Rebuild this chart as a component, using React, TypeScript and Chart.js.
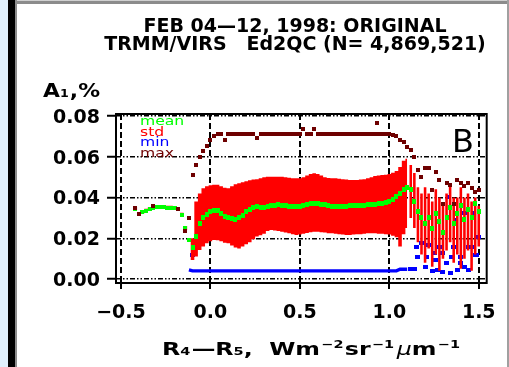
import React, { useEffect, useRef } from "react";
import { Chart, registerables } from "chart.js";
Chart.register(...registerables);

const titleLine1 = "FEB 04\u201412, 1998: ORIGINAL";
const titleLine2 = "TRMM/VIRS   Ed2QC (N= 4,869,521)";
const panelLabel = "B";
const seriesNames = ["mean", "std", "min", "max"];
const seriesColors = ["#00ff00", "#ff0000", "#0000ff", "#6e0000"];

const xTicks = [-0.5, 0, 0.5, 1.0, 1.5];
const xTickLabels = ["\u22120.5", "0.0", "0.5", "1.0", "1.5"];
const yTicks = [0, 0.02, 0.04, 0.06, 0.08];
const yTickLabels = ["0.00", "0.02", "0.04", "0.06", "0.08"];

// bin centres (R4 - R5)
const binX = [
  -0.42, -0.40, -0.38, -0.36, -0.34, -0.32, -0.30, -0.28, -0.26, -0.24, -0.22,
  -0.20, -0.18, -0.16, -0.14, -0.12, -0.10, -0.08, -0.06, -0.04, -0.02,
  0.00, 0.02, 0.04, 0.06, 0.08, 0.10, 0.12, 0.14, 0.16, 0.18,
  0.20, 0.22, 0.24, 0.26, 0.28, 0.30, 0.32, 0.34, 0.36, 0.38,
  0.40, 0.42, 0.44, 0.46, 0.48, 0.50, 0.52, 0.54, 0.56, 0.58,
  0.60, 0.62, 0.64, 0.66, 0.68, 0.70, 0.72, 0.74, 0.76, 0.78,
  0.80, 0.82, 0.84, 0.86, 0.88, 0.90, 0.92, 0.94, 0.96, 0.98,
  1.00, 1.02, 1.04, 1.06, 1.08, 1.10, 1.12, 1.14, 1.16, 1.18,
  1.20, 1.22, 1.24, 1.26, 1.28, 1.30, 1.32, 1.34, 1.36, 1.38,
  1.40, 1.42, 1.44, 1.46, 1.48, 1.50,
];

const meanA = [
  0.0345, 0.0318, 0.0328, 0.0335, 0.0342, 0.0350, 0.0352, 0.0352, 0.0352, 0.0350,
  0.0350, 0.0348, 0.0343, 0.0315, 0.0250, 0.0190,
  0.0155, 0.0208, 0.0273, 0.0300, 0.0318,
  0.0330, 0.0338, 0.0338, 0.0322, 0.0308, 0.0300, 0.0295, 0.0290, 0.0300, 0.0314,
  0.0330, 0.0340, 0.0350, 0.0355, 0.0352, 0.0350, 0.0355, 0.0360, 0.0362, 0.0365,
  0.0363, 0.0360, 0.0358, 0.0356, 0.0355, 0.0356, 0.0360, 0.0365, 0.0370, 0.0372,
  0.0371, 0.0368, 0.0364, 0.0360, 0.0358, 0.0358, 0.0356, 0.0355, 0.0357, 0.0360,
  0.0362, 0.0363, 0.0362, 0.0362, 0.0364, 0.0366, 0.0368, 0.0370, 0.0371, 0.0375,
  0.0380, 0.0390, 0.0405, 0.0420, 0.0437, 0.0450,
  0.0440, 0.0380, 0.0330, 0.0300, 0.0270, 0.0300, 0.0250, 0.0320, 0.0280, 0.0230,
  0.0300, 0.0350, 0.0270, 0.0320, 0.0360, 0.0290, 0.0340, 0.0300, 0.0370, 0.0330,
];

const stdLow = [
  0.0337, 0.0310, 0.0320, 0.0327, 0.0334, 0.0342, 0.0344, 0.0344, 0.0344, 0.0342,
  0.0342, 0.0340, 0.0335, 0.0307, 0.0242, 0.0182,
  0.0093, 0.0110, 0.0142, 0.0160, 0.0175,
  0.0185, 0.0191, 0.0190, 0.0185, 0.0178, 0.0175, 0.0165, 0.0155, 0.0150, 0.0160,
  0.0170, 0.0180, 0.0195, 0.0208, 0.0215, 0.0222, 0.0235, 0.0240, 0.0238, 0.0235,
  0.0232, 0.0228, 0.0224, 0.0220, 0.0216, 0.0218, 0.0222, 0.0226, 0.0230, 0.0232,
  0.0232, 0.0230, 0.0228, 0.0225, 0.0224, 0.0222, 0.0220, 0.0218, 0.0216, 0.0216,
  0.0218, 0.0220, 0.0220, 0.0222, 0.0224, 0.0224, 0.0224, 0.0222, 0.0222, 0.0220,
  0.0218, 0.0212, 0.0205, 0.0160, 0.0220, 0.0250,
  0.0300, 0.0250, 0.0180, 0.0120, 0.0080, 0.0150, 0.0060, 0.0120, 0.0040, 0.0100,
  0.0140, 0.0180, 0.0080, 0.0120, 0.0050, 0.0100, 0.0140, 0.0040, 0.0120, 0.0160,
];

const stdHigh = [
  0.0355, 0.0328, 0.0338, 0.0345, 0.0352, 0.0360, 0.0362, 0.0362, 0.0362, 0.0360,
  0.0360, 0.0358, 0.0353, 0.0325, 0.0260, 0.0200,
  0.0200, 0.0380, 0.0420, 0.0445, 0.0455,
  0.0460, 0.0462, 0.0462, 0.0455, 0.0448, 0.0445, 0.0455, 0.0465, 0.0470, 0.0475,
  0.0480, 0.0485, 0.0488, 0.0490, 0.0495, 0.0500, 0.0502, 0.0502, 0.0502, 0.0502,
  0.0502, 0.0500, 0.0497, 0.0495, 0.0494, 0.0495, 0.0500, 0.0508, 0.0515, 0.0519,
  0.0515, 0.0508, 0.0500, 0.0496, 0.0494, 0.0494, 0.0492, 0.0490, 0.0488, 0.0486,
  0.0486, 0.0486, 0.0488, 0.0490, 0.0495, 0.0500, 0.0505, 0.0508, 0.0510, 0.0512,
  0.0515, 0.0522, 0.0530, 0.0550, 0.0580, 0.0590,
  0.0560, 0.0520, 0.0450, 0.0420, 0.0450, 0.0420, 0.0380, 0.0440, 0.0400, 0.0360,
  0.0420, 0.0460, 0.0400, 0.0400, 0.0450, 0.0400, 0.0420, 0.0380, 0.0400, 0.0360,
];

const minA = [
  null, null, null, null, null, null, null, null, null, null,
  null, null, null, null, null, 0.0045,
  0.0040, 0.0040, 0.0040, 0.0040, 0.0040,
  0.0040, 0.0040, 0.0040, 0.0040, 0.0040, 0.0040, 0.0040, 0.0040, 0.0040, 0.0040,
  0.0040, 0.0040, 0.0040, 0.0040, 0.0040, 0.0040, 0.0040, 0.0040, 0.0040, 0.0040,
  0.0040, 0.0040, 0.0040, 0.0040, 0.0040, 0.0040, 0.0040, 0.0040, 0.0040, 0.0040,
  0.0040, 0.0040, 0.0040, 0.0040, 0.0040, 0.0040, 0.0040, 0.0040, 0.0040, 0.0040,
  0.0040, 0.0040, 0.0040, 0.0040, 0.0040, 0.0040, 0.0040, 0.0040, 0.0040, 0.0040,
  0.0040, 0.0040, 0.0040, 0.0048, 0.0048, 0.0048,
  0.0048, 0.0050, 0.0110, 0.0175, 0.0061, 0.0167, 0.0040, 0.0093, 0.0159, 0.0126,
  0.0077, 0.0028, 0.0159, 0.0044, 0.0110, 0.0060, 0.0044, 0.0159, 0.0118, 0.0208,
];

const maxA = [
  0.0350, 0.0318, null, null, null, 0.0356, null, null, null, null,
  null, null, 0.0346, null, 0.0235, 0.0298,
  0.0510, 0.0560, 0.0600, 0.0630, 0.0655,
  0.0680, 0.0700, 0.0710, 0.0710, 0.0680, 0.0710, 0.0710, 0.0710, 0.0710, 0.0710,
  0.0710, 0.0710, 0.0710, 0.0690, 0.0710, 0.0710, 0.0710, 0.0710, 0.0710, 0.0710,
  0.0710, 0.0710, 0.0710, 0.0710, 0.0710, 0.0710, 0.0735, 0.0710, 0.0710, 0.0735,
  0.0710, 0.0710, 0.0710, 0.0710, 0.0710, 0.0710, 0.0710, 0.0710, 0.0710, 0.0710,
  0.0710, 0.0710, 0.0710, 0.0710, 0.0710, 0.0710, 0.0710, 0.0710, 0.0710, 0.0710,
  0.0710, 0.0705, 0.0700, 0.0682, 0.0670, 0.0650,
  0.0633, 0.0600, 0.0535, 0.0502, 0.0545, 0.0543, 0.0437, 0.0527, 0.0486, 0.0370,
  0.0470, 0.0462, 0.0370, 0.0486, 0.0470, 0.0454, 0.0470, 0.0445, 0.0429, 0.0437,
];

// additional scattered bins (several values share the same R4-R5)
const minExtraX = [-0.10, 1.15, 1.21, 1.25, 1.27, 1.30, 1.33, 1.35, 1.37, 1.40, 1.42, 1.44, 1.47, 1.49];
const minExtraY = [0.0118, 0.0159, 0.0110, 0.0126, 0.0044, 0.0036, 0.0404, 0.0110, 0.0291, 0.0077, 0.0324, 0.0159, 0.0324, 0.0118];
const maxExtraX = [0.93];
const maxExtraY = [0.0767];

const TAIL_START = 1.11;

function pts(xs: number[], ys: (number | null)[]) {
  const out: { x: number; y: number }[] = [];
  xs.forEach((x, i) => {
    const y = ys[i];
    if (y !== null && y !== undefined) out.push({ x, y });
  });
  return out;
}

function marker(color: string, w: number, h: number) {
  const c = document.createElement("canvas");
  c.width = w;
  c.height = h;
  const g = c.getContext("2d")!;
  g.fillStyle = color;
  g.fillRect(0, 0, w, h);
  return c;
}

const FONT = '"DejaVu Sans"';

function drawPieces(ctx: any, pieces: any[], left: number, width: number, baseline: number) {
  let total = 0;
  const widths = pieces.map((p) => {
    ctx.font = p.f;
    const w = ctx.measureText(p.t).width + (p.gap || 0);
    total += w;
    return w;
  });
  ctx.save();
  ctx.translate(left, baseline);
  ctx.scale(width / total, 1);
  let x = 0;
  pieces.forEach((p, i) => {
    ctx.font = p.f;
    ctx.fillText(p.t, x, p.dy);
    x += widths[i];
  });
  ctx.restore();
}

const decor = {
  id: "decor",
  afterDraw(chart: any) {
    const { ctx, chartArea: a } = chart;
    ctx.save();
    ctx.setLineDash([]);
    ctx.strokeStyle = "#000";
    ctx.lineWidth = 2;
    ctx.strokeRect(a.left, a.top, a.right - a.left, a.bottom - a.top);

    ctx.fillStyle = "#000";
    ctx.textBaseline = "alphabetic";
    ctx.textAlign = "center";
    ctx.font = `bold 19px ${FONT}`;
    ctx.fillText(titleLine1, 295, 32);
    ctx.fillText(titleLine2, 295, 50);

    ctx.textAlign = "left";
    const big = `bold 19px ${FONT}`;
    const small = `bold 11px ${FONT}`;
    drawPieces(
      ctx,
      [
        { t: "A", f: big, dy: 0 },
        { t: "1", f: small, dy: 0, gap: 1 },
        { t: ",%", f: big, dy: 0 },
      ],
      43,
      57,
      97
    );

    ctx.font = `13px ${FONT}`;
    const baselines = [125, 135.5, 146, 156.5];
    seriesNames.forEach((name, i) => {
      ctx.save();
      ctx.translate(140, baselines[i]);
      ctx.scale(1.2, 1);
      ctx.fillStyle = seriesColors[i];
      ctx.fillText(name, 0, 0);
      ctx.restore();
    });

    ctx.fillStyle = "#000";
    ctx.font = `32px ${FONT}`;
    ctx.fillText(panelLabel, 452, 152);

    const t18 = `bold 18px ${FONT}`;
    const s11 = `bold 11px ${FONT}`;
    drawPieces(
      ctx,
      [
        { t: "R", f: t18, dy: 0 },
        { t: "4", f: s11, dy: 0, gap: 1 },
        { t: "\u2014", f: t18, dy: 0 },
        { t: "R", f: t18, dy: 0 },
        { t: "5", f: s11, dy: 0 },
        { t: ",  W", f: t18, dy: 0 },
        { t: "m", f: t18, dy: 0, gap: 1 },
        { t: "\u22122", f: s11, dy: -7, gap: 1 },
        { t: "sr", f: t18, dy: 0, gap: 1 },
        { t: "\u22121", f: s11, dy: -7, gap: 2 },
        { t: "\u03bc", f: `italic 18px ${FONT}`, dy: 0 },
        { t: "m", f: t18, dy: 0, gap: 1 },
        { t: "\u22121", f: s11, dy: -7 },
      ],
      162,
      298,
      355
    );
    ctx.restore();
  },
};

export default function App() {
  const ref = useRef<HTMLCanvasElement>(null);
  useEffect(() => {
    const canvas = ref.current!;
    const band = binX.map((x, i) => ({ x, y: [stdLow[i], stdHigh[i]] }));
    const lowPts = pts(binX, stdLow).filter((p) => p.x <= TAIL_START);
    const highPts = pts(binX, stdHigh).filter((p) => p.x <= TAIL_START);
    const minPts = [...pts(binX, minA), ...pts(minExtraX, minExtraY)];
    const maxMark = marker(seriesColors[3], 4, 4);
    const meanMark = marker(seriesColors[0], 4, 5);
    const meanMarkSmall = marker(seriesColors[0], 4, 4);
    const minMark = marker(seriesColors[2], 5, 4);
    const chart = new Chart(canvas, {
      type: "scatter",
      data: {
        datasets: [
          {
            label: "max",
            data: [...pts(binX, maxA), ...pts(maxExtraX, maxExtraY)],
            pointStyle: maxMark,
            pointRadius: 2,
            backgroundColor: seriesColors[3],
            borderColor: seriesColors[3],
            order: 0,
          } as any,
          {
            label: "mean",
            data: pts(binX, meanA),
            pointStyle: (c: any) => (c.raw && c.raw.x < -0.11 ? meanMarkSmall : meanMark),
            pointRadius: 2,
            backgroundColor: seriesColors[0],
            borderColor: seriesColors[0],
            order: 1,
          } as any,
          {
            type: "bar",
            label: "std tail",
            data: band.filter((d) => d.x > TAIL_START),
            backgroundColor: seriesColors[1],
            borderWidth: 0,
            grouped: false,
            order: 2,
          } as any,
          {
            label: "std low",
            data: lowPts,
            showLine: true,
            stepped: "middle",
            borderWidth: 0,
            pointRadius: 0,
            borderColor: "rgba(0,0,0,0)",
            fill: false,
            order: 3,
          } as any,
          {
            label: "std",
            data: highPts,
            showLine: true,
            stepped: "middle",
            borderWidth: 0,
            pointRadius: 0,
            borderColor: "rgba(0,0,0,0)",
            backgroundColor: seriesColors[1],
            fill: "-1",
            order: 3,
          } as any,
          {
            label: "min",
            data: minPts.filter((p) => p.x <= TAIL_START && p.y < 0.006),
            showLine: true,
            borderWidth: 3.4,
            pointRadius: 0,
            borderColor: seriesColors[2],
            backgroundColor: seriesColors[2],
            order: 5,
          } as any,
          {
            label: "min tail",
            data: minPts.filter((p) => p.x > TAIL_START || p.y >= 0.006),
            pointStyle: minMark,
            pointRadius: 2,
            backgroundColor: seriesColors[2],
            borderColor: seriesColors[2],
            order: 6,
          } as any,
        ],
      },
      options: {
        responsive: false,
        animation: false,
        events: [],
        layout: { padding: { left: 0, right: 20, top: 114, bottom: 0 } },
        plugins: {
          legend: { display: false },
          tooltip: { enabled: false },
          title: { display: false },
          filler: { propagate: false },
        },
        scales: {
          x: {
            type: "linear",
            min: -0.52778,
            max: 1.54444,
            offset: false,
            afterFit: (s: any) => {
              s.height = 84;
            },
            afterBuildTicks: (s: any) => {
              s.ticks = xTicks.map((v) => ({ value: v }));
            },
            ticks: {
              autoSkip: false,
              maxRotation: 0,
              color: "#000",
              padding: 13,
              font: { family: "DejaVu Sans", size: 19, weight: "bold" },
              callback: (v: any) => xTickLabels[xTicks.indexOf(Number(v))] ?? "",
            },
            grid: {
              color: "#000",
              lineWidth: 2,
              offset: false,
              tickLength: 6,
              tickWidth: 2,
              tickColor: "#000",
              tickBorderDash: [],
            },
            border: { display: false, dash: [6, 3] },
          },
          y: {
            type: "linear",
            min: -0.001963,
            max: 0.080982,
            afterFit: (s: any) => {
              s.width = 116;
            },
            afterBuildTicks: (s: any) => {
              s.ticks = yTicks.map((v) => ({ value: v }));
            },
            ticks: {
              autoSkip: false,
              color: "#000",
              padding: 7,
              labelOffset: 2,
              font: { family: "DejaVu Sans", size: 19, weight: "bold" },
              callback: (v: any) => {
                const i = yTicks.findIndex((t) => Math.abs(t - Number(v)) < 1e-9);
                return i >= 0 ? yTickLabels[i] : "";
              },
            },
            grid: {
              color: "#000",
              lineWidth: 1.5,
              tickLength: 9,
              tickWidth: 2,
              tickColor: "#000",
              tickBorderDash: [],
            },
            border: { display: false, dash: [5, 2, 1.5, 2, 1.5, 2] },
          },
        },
      },
      plugins: [decor],
    } as any);
    return () => chart.destroy();
  }, []);

  return (
    <div style={{ position: "fixed", left: 0, top: 0, width: 509, height: 367, background: "#fff", overflow: "hidden" }}>
      <div style={{ position: "absolute", left: 0, top: 0, width: 8, height: 367, background: "#e0f0fc" }} />
      <div style={{ position: "absolute", left: 8, top: 0, width: 7, height: 367, background: "#000" }} />
      <div style={{ position: "absolute", left: 15, top: 0, width: 2, height: 367, background: "#8c8c8c" }} />
      <div style={{ position: "absolute", left: 17, top: 0, width: 492, height: 1, background: "#d0d0d0" }} />
      <div style={{ position: "absolute", left: 17, top: 1, width: 492, height: 3, background: "#8c8c8c" }} />
      <div style={{ position: "absolute", left: 507, top: 0, width: 2, height: 367, background: "#a0a0a0" }} />
      <canvas
        ref={ref}
        width={509}
        height={367}
        style={{ position: "absolute", left: 0, top: 0, width: 509, height: 367 }}
      />
    </div>
  );
}
